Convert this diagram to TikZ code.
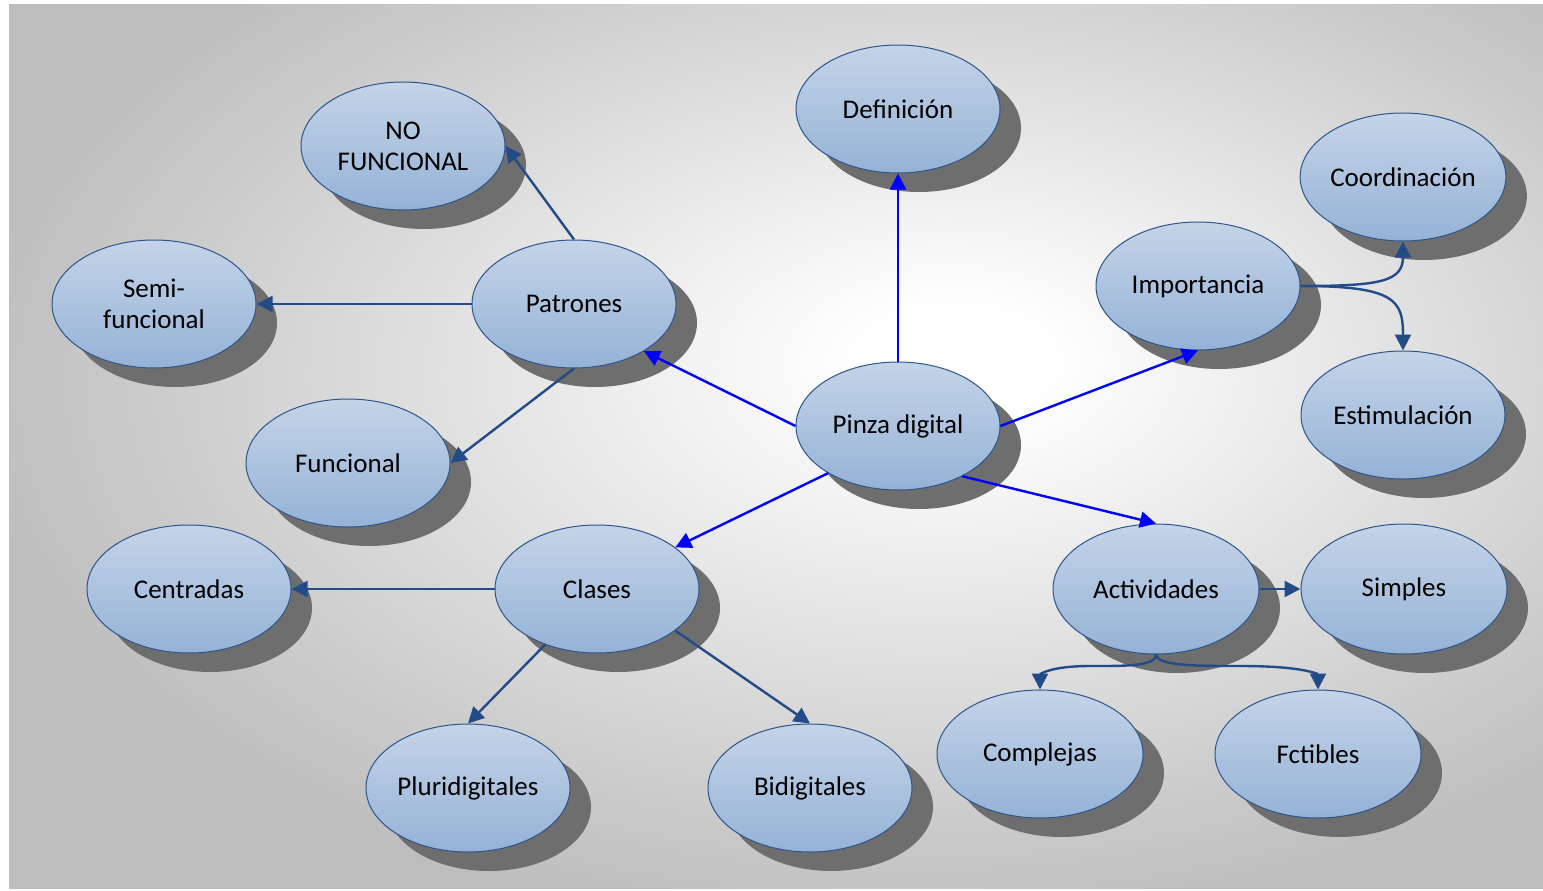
\documentclass[tikz,border=0pt]{standalone}
\usepackage{fontspec}
\setmainfont{Carlito}
\usetikzlibrary{shapes.geometric,arrows.meta,shadows}
\definecolor{bggray}{RGB}{189,189,189}
\definecolor{shadowgray}{RGB}{110,110,110}
\definecolor{topfill}{RGB}{196,212,232}
\definecolor{botfill}{RGB}{149,178,214}
\definecolor{edgecol}{RGB}{45,85,140}
\definecolor{darkarrow}{RGB}{35,75,135}
\pgfdeclareradialshading{bgshade}{\pgfpoint{6bp}{5bp}}{color(0bp)=(white); color(3bp)=(white); color(31bp)=(bggray); color(100bp)=(bggray)}
\tikzset{
  bubble/.style={ellipse, minimum width=204pt, minimum height=128pt, inner sep=0pt,
    top color=topfill, bottom color=botfill, draw=edgecol, line width=1pt,
    align=center, font=\fontsize{27}{31}\selectfont,
    drop shadow={shadow xshift=21pt, shadow yshift=-19pt, fill=shadowgray, opacity=1}},
  bluearrow/.style={draw=blue, line width=2.4pt, -{Triangle[length=16pt,width=16pt]}},
  darkarr/.style={draw=darkarrow, line width=2.4pt, -{Triangle[length=16pt,width=16pt]}}
}
\begin{document}
\begin{tikzpicture}[x=1pt,y=-1pt]
\useasboundingbox (0,0) rectangle (1543,891);
\fill[white] (0,0) rectangle (1543,891);
\shade[shading=bgshade] (9,5) rectangle (1543,888);

\node[bubble] (def) at (898,109) {Definición};
\node[bubble] (nof) at (403,146) {NO\\FUNCIONAL};
\node[bubble] (coord) at (1403,177) {Coordinación};
\node[bubble] (imp) at (1198,286) {Importancia};
\node[bubble] (semi) at (154,304) {Semi-\\funcional};
\node[bubble] (pat) at (574,304) {Patrones};
\node[bubble] (est) at (1403,415) {Estimulación};
\node[bubble] (pinza) at (898,426) {Pinza digital};
\node[bubble] (func) at (348,463) {Funcional};
\node[bubble] (cent) at (189,589) {Centradas};
\node[bubble] (clases) at (597,589) {Clases};
\node[bubble, minimum width=206pt, minimum height=130pt] (act) at (1156,589) {Actividades};
\node[bubble, minimum width=206pt, minimum height=130pt] (simp) at (1404,589) {Simples};
\node[bubble, minimum width=206pt] (compl) at (1040,754) {Complejas};
\node[bubble, minimum width=206pt] (fct) at (1318,754) {Fctibles};
\node[bubble] (pluri) at (468,788) {Pluridigitales};
\node[bubble] (bidi) at (810,788) {Bidigitales};

% blue arrows from Pinza digital
\draw[bluearrow] (pinza.north) -- (def.south);
\draw[bluearrow] (pinza.west) -- (pat.-34);
\draw[bluearrow] (pinza.east) -- (imp.south);
\draw[bluearrow] (pinza.-146) -- (clases.28);
\draw[bluearrow] (pinza.-38) -- (act.north);

% dark arrows
\draw[darkarr] (pat.north) -- (nof.east);
\draw[darkarr] (pat.west) -- (semi.east);
\draw[darkarr] (pat.south) -- (func.east);
\draw[darkarr] (clases.west) -- (cent.east);
\draw[darkarr] (clases.-133) -- (pluri.north);
\draw[darkarr] (clases.-28) -- (bidi.north);
\draw[darkarr] (act.east) -- (simp.west);
\draw[darkarr] (imp.east) .. controls +(80,0) and +(0,40) .. (coord.south);
\draw[darkarr] (imp.east) .. controls +(95,0) and +(0,-50) .. (est.north);
\draw[darkarr] (act.south) .. controls +(0,12) and +(35,0) .. (1090,666) .. controls +(-40,0) and +(0,-15) .. (compl.north);
\draw[darkarr] (act.south) .. controls +(0,12) and +(-35,0) .. (1240,666) .. controls +(65,0) and +(0,-15) .. (fct.north);
\end{tikzpicture}
\end{document}
